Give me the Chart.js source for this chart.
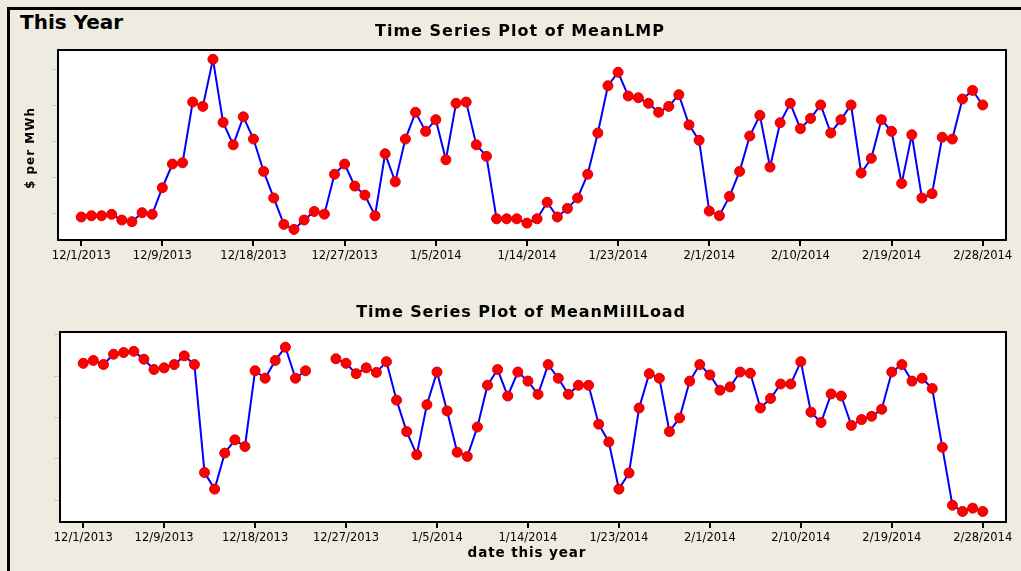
<!DOCTYPE html>
<html lang="en">

<head>
    <meta charset="UTF-8">
    <title>This Year</title>
    <script src="https://cdn.jsdelivr.net/npm/chart.js"></script>
    <style>
        body {
            margin: 0;
            width: 1021px;
            height: 571px;
            overflow: hidden;
            background-color: #eeebe1;
            font-family: "DejaVu Sans", sans-serif;
            position: relative;
        }

        .frame {
            position: absolute;
            left: 7px;
            top: 7px;
            right: 0;
            bottom: 0;
            border-left: 3px solid #000;
            border-top: 3px solid #000;
        }

        .heading {
            position: absolute;
            left: 20px;
            top: 10px;
            font-weight: bold;
            font-size: 20px;
            color: #000;
        }

        canvas {
            position: absolute;
            left: 0;
        }
    </style>
</head>

<body>
    <div class="frame"></div>
    <div class="heading">This Year</div>
    <canvas id="lmpChart" width="1021" height="290" style="top:0"></canvas>
    <canvas id="loadChart" width="1021" height="281" style="top:290px"></canvas>

    <script>
        // day index of each tick and its label
        const tickIdx = [0, 8, 17, 26, 35, 44, 53, 62, 71, 80, 89];
        const tickLabels = ['12/1/2013', '12/9/2013', '12/18/2013', '12/27/2013', '1/5/2014',
            '1/14/2014', '1/23/2014', '2/1/2014', '2/10/2014', '2/19/2014', '2/28/2014'];

        // daily values (axis has no labels, so units are relative)
        const meanLMP = [17.8, 18.5, 18.5, 19.3, 16.1, 15.2, 20.2, 19.3, 34.1, 47.3,
            48.0, 81.8, 79.4, 105.6, 70.5, 58.0, 73.6, 61.2, 43.2, 28.4,
            13.7, 10.9, 16.1, 20.9, 19.4, 41.6, 47.3, 35.0, 30.0, 18.5,
            53.0, 37.4, 61.2, 76.1, 65.5, 72.0, 49.7, 81.1, 81.8, 58.0,
            51.6, 16.8, 16.8, 16.8, 14.4, 16.8, 26.0, 17.8, 22.6, 28.4,
            41.6, 64.6, 90.9, 98.4, 85.2, 84.2, 81.1, 76.1, 79.4, 85.9,
            69.1, 60.5, 21.1, 18.5, 29.3, 43.2, 62.9, 74.4, 45.6, 70.3,
            81.1, 67.0, 72.7, 80.2, 64.6, 72.0, 80.2, 42.3, 50.5, 72.0,
            65.5, 36.5, 63.6, 28.4, 30.8, 62.2, 61.2, 83.5, 88.3, 80.2];

        const meanMillLoad = [43.1, 43.8, 42.8, 45.3, 45.7, 46.0, 44.1, 41.6, 42.0, 42.8,
            44.9, 42.8, 16.7, 12.7, 21.4, 24.6, 23.0, 41.3, 39.5, 43.8,
            47.0, 39.5, 41.3, null, null, 44.2, 43.1, 40.6, 42.0, 40.9,
            43.5, 34.2, 26.6, 21.0, 33.1, 41.0, 31.6, 21.6, 20.6, 27.7,
            37.8, 41.6, 35.2, 41.0, 38.8, 35.6, 42.8, 39.5, 35.6, 37.8,
            37.8, 28.4, 24.1, 12.7, 16.6, 32.3, 40.6, 39.5, 26.6, 29.9,
            38.8, 42.8, 40.3, 36.6, 37.4, 41.0, 40.7, 32.3, 34.6, 38.1,
            38.1, 43.5, 31.3, 28.8, 35.7, 35.2, 28.1, 29.5, 30.3, 32.0,
            41.0, 42.8, 38.8, 39.5, 37.0, 22.8, 8.8, 7.3, 8.1, 7.3];

        const lmpTicks = [20, 40, 60, 80, 100];
        const loadTicks = [10, 20, 30, 40, 50];

        const FONT = '"DejaVu Sans", sans-serif';

        // white plot area with a black box round it
        const boxPlugin = {
            id: 'box',
            beforeDraw(chart) {
                const a = chart.chartArea;
                chart.ctx.save();
                chart.ctx.fillStyle = '#fff';
                chart.ctx.fillRect(a.left, a.top, a.right - a.left, a.bottom - a.top);
                chart.ctx.restore();
            },
            afterDraw(chart) {
                const a = chart.chartArea;
                const ctx = chart.ctx;
                ctx.save();
                ctx.strokeStyle = '#000';
                ctx.lineWidth = 2;
                ctx.strokeRect(a.left, a.top, a.right - a.left, a.bottom - a.top);
                ctx.restore();
            }
        };

        // titles are drawn by hand so they can get the wide letter spacing of the original
        const labelPlugin = {
            id: 'labels',
            afterDraw(chart, args, opts) {
                const ctx = chart.ctx;
                (opts.items || []).forEach(t => {
                    ctx.save();
                    ctx.font = 'bold ' + t.size + 'px ' + FONT;
                    ctx.fillStyle = '#000';
                    ctx.letterSpacing = t.spacing + 'px';
                    ctx.textAlign = 'center';
                    ctx.textBaseline = 'middle';
                    ctx.translate(t.x, t.y);
                    if (t.rotate) ctx.rotate(-Math.PI / 2);
                    ctx.fillText(t.text, 0, 0);
                    ctx.restore();
                });
            }
        };

        function makeChart(id, values, yTicks, yMin, yMax, opts) {
            const points = values.map((v, i) => ({ x: i, y: v }));
            return new Chart(document.getElementById(id), {
                type: 'line',
                data: {
                    datasets: [{
                        data: points,
                        borderColor: '#0000ff',
                        borderWidth: 2,
                        pointRadius: 5,
                        pointBackgroundColor: '#ff0000',
                        pointBorderColor: '#e00000',
                        pointBorderWidth: 1,
                        spanGaps: false,
                        tension: 0
                    }]
                },
                options: {
                    responsive: false,
                    animation: false,
                    layout: { padding: { left: 20, right: 15, top: opts.top, bottom: 0 } },
                    plugins: {
                        legend: { display: false },
                        tooltip: { enabled: false },
                        labels: { items: opts.labels }
                    },
                    scales: {
                        x: {
                            type: 'linear',
                            min: -2.3,
                            max: 91.3,
                            afterBuildTicks(scale) {
                                scale.ticks = tickIdx.map(v => ({ value: v }));
                            },
                            afterFit(scale) {
                                scale.height = opts.xHeight;
                            },
                            ticks: {
                                autoSkip: false,
                                maxRotation: 0,
                                color: '#000',
                                padding: 3,
                                font: { family: FONT, size: 11.5 },
                                callback: (v) => tickLabels[tickIdx.indexOf(v)]
                            },
                            grid: {
                                drawOnChartArea: false,
                                tickLength: 6,
                                color: '#000',
                                lineWidth: 2
                            },
                            border: { display: false }
                        },
                        y: {
                            min: yMin,
                            max: yMax,
                            afterBuildTicks(scale) {
                                scale.ticks = yTicks.map(v => ({ value: v }));
                            },
                            afterFit(scale) {
                                scale.width = opts.yWidth;
                            },
                            ticks: { display: false },
                            grid: {
                                drawOnChartArea: false,
                                tickLength: 6,
                                color: '#c8c8c8',
                                lineWidth: 1
                            },
                            border: { display: false }
                        }
                    }
                },
                plugins: [boxPlugin, labelPlugin]
            });
        }

        makeChart('lmpChart', meanLMP, lmpTicks, 5.0, 110.8, {
            top: 50, xHeight: 50, yWidth: 38,
            labels: [
                { text: 'Time Series Plot of MeanLMP', x: 520, y: 32, size: 16, spacing: 1.0 },
                { text: '$ per MWh', x: 31, y: 148, size: 12, spacing: 1, rotate: true }
            ]
        });

        makeChart('loadChart', meanMillLoad, loadTicks, 4.75, 50.67, {
            top: 42, xHeight: 49, yWidth: 40,
            labels: [
                { text: 'Time Series Plot of MeanMillLoad', x: 521, y: 23, size: 16, spacing: 0.9 },
                { text: 'date this year', x: 527, y: 263, size: 13.5, spacing: 0.9 }
            ]
        });
    </script>
</body>

</html>
